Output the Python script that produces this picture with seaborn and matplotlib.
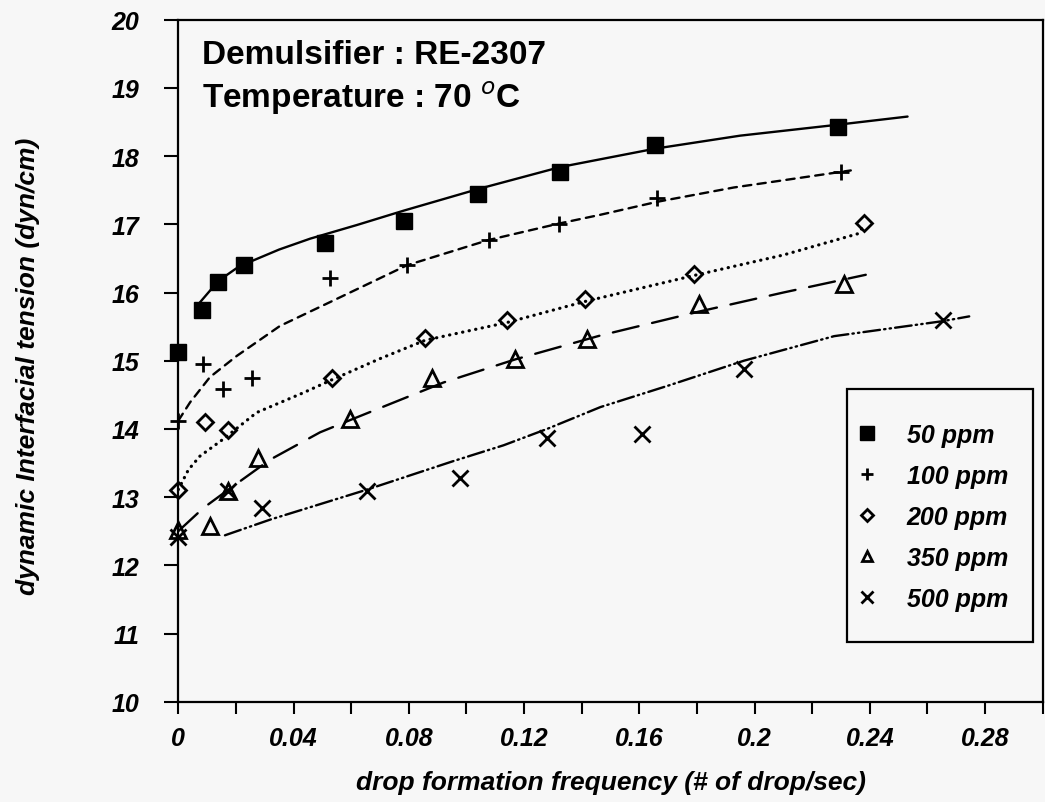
import matplotlib
matplotlib.use("Agg")
import matplotlib.pyplot as plt
from matplotlib.lines import Line2D
from matplotlib.patches import Rectangle
from matplotlib.ticker import MultipleLocator, FuncFormatter
import seaborn as sns

# measured points (frequency in drops/sec, IFT in dyn/cm)
labels = ['50 ppm', '100 ppm', '200 ppm', '350 ppm', '500 ppm']

freq_50 = [0.0, 0.0081, 0.0139, 0.0228, 0.051, 0.0785, 0.104, 0.1326, 0.1656, 0.2288]
ift_50 = [15.13, 15.75, 16.15, 16.41, 16.73, 17.05, 17.44, 17.76, 18.16, 18.43]

freq_100 = [0.0, 0.0087, 0.0156, 0.0255, 0.0527, 0.0794, 0.1077, 0.132, 0.1662, 0.2299]
ift_100 = [14.12, 14.95, 14.58, 14.75, 16.22, 16.40, 16.77, 17.01, 17.38, 17.77]

freq_200 = [0.0, 0.0093, 0.0174, 0.0533, 0.0857, 0.1141, 0.1413, 0.179, 0.238]
ift_200 = [13.11, 14.10, 13.99, 14.75, 15.34, 15.59, 15.90, 16.27, 17.02]

freq_350 = [0.0, 0.011, 0.0174, 0.0278, 0.0597, 0.088, 0.117, 0.1419, 0.1807, 0.2311]
ift_350 = [12.52, 12.57, 13.09, 13.58, 14.14, 14.75, 15.02, 15.32, 15.83, 16.12]

freq_500 = [0.0, 0.0174, 0.029, 0.0655, 0.0979, 0.128, 0.161, 0.1963, 0.2653]
ift_500 = [12.41, 13.09, 12.84, 13.09, 13.28, 13.86, 13.92, 14.88, 15.59]

# fitted curves
fit_50_x = [0.007, 0.0139, 0.02, 0.026, 0.035, 0.0458, 0.062, 0.0782, 0.1043, 0.1326,
            0.1656, 0.195, 0.2288, 0.2531]
fit_50_y = [15.83, 16.17, 16.35, 16.47, 16.63, 16.79, 16.99, 17.20, 17.52, 17.84,
            18.11, 18.30, 18.46, 18.58]

fit_100_x = [0.0, 0.0041, 0.011, 0.0203, 0.0353, 0.0527, 0.0794, 0.1077, 0.132, 0.1465,
             0.1662, 0.1928, 0.2334]
fit_100_y = [14.12, 14.39, 14.76, 15.07, 15.51, 15.86, 16.40, 16.77, 17.01, 17.14,
             17.33, 17.54, 17.79]

fit_200_x = [0.0, 0.0035, 0.0075, 0.0156, 0.0272, 0.0434, 0.0533, 0.07, 0.0857, 0.1141,
             0.1413, 0.179, 0.21, 0.2357, 0.238]
fit_200_y = [13.11, 13.40, 13.60, 13.85, 14.24, 14.53, 14.72, 15.03, 15.30, 15.56,
             15.87, 16.25, 16.55, 16.86, 16.98]

fit_350_x = [0.0, 0.0087, 0.0174, 0.0319, 0.0492, 0.062, 0.092, 0.117, 0.1465, 0.1807,
             0.21, 0.2386]
fit_350_y = [12.50, 12.84, 13.11, 13.55, 13.95, 14.17, 14.68, 15.02, 15.37, 15.72,
             16.0, 16.26]

fit_500_x = [0.0162, 0.0319, 0.0655, 0.0956, 0.1129, 0.128, 0.1465, 0.1697, 0.1963,
             0.2276, 0.2653, 0.2745]
fit_500_y = [12.44, 12.67, 13.11, 13.53, 13.76, 14.0, 14.32, 14.63, 15.0,
             15.36, 15.58, 15.65]

bg = '#f7f7f7'
sns.set_theme(style='ticks')
plt.rcParams['font.family'] = ['Liberation Sans', 'DejaVu Sans']
plt.rcParams['lines.scale_dashes'] = False

fig = plt.figure(figsize=(10.45, 8.03), dpi=100, facecolor=bg)
ax = fig.add_axes([0.1706, 0.1249, 0.8272, 0.8493])
ax.set_facecolor(bg)

styles = [
    dict(marker='s', ms=12, mfc='black', mew=1, ls='-', lw=1.7),
    dict(marker='+', ms=12, mfc='black', mew=2, ls=(0, (6, 4.5)), lw=1.7),
    dict(marker='D', ms=8, mfc='none', mew=2, ls=(0, (0.2, 4.6)), lw=2.3),
    dict(marker='^', ms=11, mfc='none', mew=2, ls=(0, (19, 10)), lw=1.7),
    dict(marker='x', ms=12, mfc='black', mew=2, ls=(0, (12, 3, 1, 3, 1, 3)), lw=1.7),
]
points = [(freq_50, ift_50), (freq_100, ift_100), (freq_200, ift_200),
          (freq_350, ift_350), (freq_500, ift_500)]
fits = [(fit_50_x, fit_50_y), (fit_100_x, fit_100_y), (fit_200_x, fit_200_y),
        (fit_350_x, fit_350_y), (fit_500_x, fit_500_y)]

for (fx, fy), (px, py), st in zip(fits, points, styles):
    sns.lineplot(x=fx, y=fy, sort=False, estimator=None, ax=ax, color='black',
                 linewidth=st['lw'], linestyle=st['ls'], dash_capstyle='round')
    sns.lineplot(x=px, y=py, sort=False, estimator=None, ax=ax, color='black',
                 linestyle='', marker=st['marker'], markersize=st['ms'],
                 markerfacecolor=st['mfc'], markeredgecolor='black',
                 markeredgewidth=st['mew'], clip_on=False, zorder=5)

ax.set_xlim(0, 0.30)
ax.set_ylim(10, 20)
ax.xaxis.set_major_locator(MultipleLocator(0.04))
ax.xaxis.set_minor_locator(MultipleLocator(0.02))
ax.yaxis.set_major_locator(MultipleLocator(1))
ax.xaxis.set_major_formatter(FuncFormatter(lambda v, p: '%g' % round(v, 2)))
ax.yaxis.set_major_formatter(FuncFormatter(lambda v, p: '%d' % v))

for s in ax.spines.values():
    s.set_visible(True)
    s.set_color('black')
    s.set_linewidth(1.6)

ax.tick_params(axis='x', which='both', direction='out', length=8.5, width=1.5,
               color='black', pad=9)
ax.tick_params(axis='y', which='both', direction='out', length=10, width=1.5,
               color='black', pad=18)
for lbl in ax.get_xticklabels() + ax.get_yticklabels():
    lbl.set_fontsize(18)
    lbl.set_fontweight('bold')
    lbl.set_fontstyle('italic')
    lbl.set_color('black')

ax.set_xlabel('drop formation frequency (# of drop/sec)', fontsize=19,
              fontweight='bold', fontstyle='italic', color='black')
ax.set_ylabel('dynamic Interfacial tension (dyn/cm)', fontsize=19,
              fontweight='bold', fontstyle='italic', color='black')
ax.xaxis.set_label_coords(0.5, -0.100)
ax.yaxis.set_label_coords(-0.160, 0.493)

ax.text(0.027, 0.9365, 'Demulsifier : RE-2307', transform=ax.transAxes,
        fontsize=24, fontweight='bold', va='baseline', ha='left', color='black')
ax.text(0.027, 0.8716, 'Temperature : 70 $^{o}$C', transform=ax.transAxes,
        fontsize=24, fontweight='bold', va='baseline', ha='left', color='black')

# legend: frame drawn separately so the padding can match
ax.add_patch(Rectangle((0.7733, 0.0871), 0.2159, 0.3714, transform=ax.transAxes,
                       fill=False, edgecolor='black', linewidth=1.6, zorder=6))
leg_sizes = [10, 9, 6, 7, 8]
handles = [Line2D([], [], linestyle='', marker=st['marker'], markersize=ms,
                  markerfacecolor=st['mfc'], markeredgecolor='black',
                  markeredgewidth=st['mew'])
           for st, ms in zip(styles, leg_sizes)]
leg = ax.legend(handles, labels, loc='center left', bbox_to_anchor=(0.7848, 0.271),
                frameon=False, borderpad=0, borderaxespad=0, handlelength=0.8,
                handletextpad=1.2, labelspacing=0.68,
                prop=dict(size=18, weight='bold', style='italic'))
for t in leg.get_texts():
    t.set_color('black')

fig.savefig('out.png', dpi=100, facecolor=bg)
